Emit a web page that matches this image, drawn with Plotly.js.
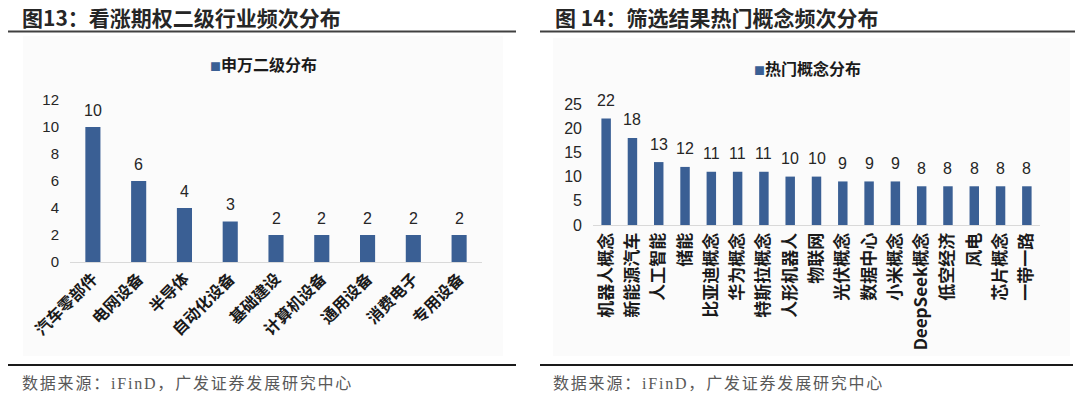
<!DOCTYPE html>
<html><head><meta charset="utf-8">
<script src="https://cdn.plot.ly/plotly-3.0.1.min.js"></script>
<style>html,body{margin:0;padding:0;background:#fff}#chart{width:1080px;height:397px}</style>
</head><body><div id="chart"></div>
<script>
// ---- data ----
const industryCategories = ["汽车零部件","电网设备","半导体","自动化设备","基础建设","计算机设备","通用设备","消费电子","专用设备"];
const industryCounts = [10,6,4,3,2,2,2,2,2];
const conceptCategories = ["机器人概念","新能源汽车","人工智能","储能","比亚迪概念","华为概念","特斯拉概念","人形机器人","物联网","光伏概念","数据中心","小米概念","DeepSeek概念","低空经济","风电","芯片概念","一带一路"];
const conceptCounts = [22,18,13,12,11,11,11,10,10,9,9,9,8,8,8,8,8];
const leftYTicks = [0,2,4,6,8,10,12];
const rightYTicks = [0,5,10,15,20,25];
const leftTitle = "图13：看涨期权二级行业频次分布";
const rightTitle = "图 14：筛选结果热门概念频次分布";
const leftLegend = "申万二级分布";
const rightLegend = "热门概念分布";
const sourceText = "数据来源：iFinD，广发证券发展研究中心";

// ---- layout helpers ----
const W = 1080, H = 397;
const px = x => x / W;
const py = y => 1 - y / H;
const BAR = "#3A5F94";
const CJK = "Noto Sans CJK SC, Liberation Sans, sans-serif";
const NUM = "Liberation Sans, Noto Sans CJK SC, sans-serif";
const LABEL_FONT = {family: NUM, size: 16, color: "#262626"};

const traces = [
  {
    type: "bar", x: industryCategories, y: industryCounts, xaxis: "x", yaxis: "y",
    marker: {color: BAR}, width: 0.33, hoverinfo: "x+y", showlegend: false
  },
  {
    type: "bar", x: conceptCategories, y: conceptCounts, xaxis: "x2", yaxis: "y2",
    marker: {color: BAR}, width: 0.36, hoverinfo: "x+y", showlegend: false
  }
];

// value labels above the bars, positioned through the axes' own scales
const valueLabels = [];
industryCategories.forEach((c, i) => valueLabels.push({
  xref: "x", yref: "y", x: c, y: industryCounts[i], yshift: 17, yanchor: "middle",
  text: String(industryCounts[i]), showarrow: false, font: LABEL_FONT
}));
conceptCategories.forEach((c, i) => valueLabels.push({
  xref: "x2", yref: "y2", x: c, y: conceptCounts[i], yshift: 18, yanchor: "middle",
  text: String(conceptCounts[i]), showarrow: false, font: LABEL_FONT
}));

const srcText = "<span style='letter-spacing:1.8px'>" + sourceText + "</span>";

const layout = {
  width: W, height: H,
  margin: {l: 0, r: 0, t: 0, b: 0},
  paper_bgcolor: "#ffffff", plot_bgcolor: "rgba(0,0,0,0)",
  showlegend: false,
  xaxis: {
    domain: [px(70), px(482)], anchor: "y", type: "category",
    showline: true, linecolor: "#d9d9d9", linewidth: 1, showgrid: false, zeroline: false,
    ticks: "", tickangle: -45, automargin: false,
    tickfont: {family: CJK, size: 16, color: "#1a1a1a", weight: "bold"}
  },
  yaxis: {
    domain: [py(262), py(100)], anchor: "x", range: [0, 12],
    tickvals: leftYTicks, showline: false, showgrid: false, zeroline: false,
    ticks: "", ticklabelstandoff: 10, automargin: false,
    tickfont: {family: NUM, size: 15, color: "#262626"}
  },
  xaxis2: {
    domain: [px(593), px(1040)], anchor: "y2", type: "category",
    showline: true, linecolor: "#d9d9d9", linewidth: 1, showgrid: false, zeroline: false,
    ticks: "", tickangle: -90, automargin: false,
    tickfont: {family: CJK, size: 17, color: "#1a1a1a", weight: "bold"}
  },
  yaxis2: {
    domain: [py(225), py(104)], anchor: "x2", range: [0, 25],
    tickvals: rightYTicks, showline: false, showgrid: false, zeroline: false,
    ticks: "", ticklabelstandoff: 10, automargin: false,
    tickfont: {family: NUM, size: 16, color: "#262626"}
  },
  shapes: [
    {type: "rect", xref: "paper", yref: "paper", x0: px(23), x1: px(503), y0: py(356), y1: py(36),
     fillcolor: "#fbfbfb", line: {width: 0}, layer: "below"},
    {type: "rect", xref: "paper", yref: "paper", x0: px(553), x1: px(1070), y0: py(356), y1: py(38),
     fillcolor: "#fbfbfb", line: {width: 0}, layer: "below"},
    {type: "line", xref: "paper", yref: "paper", x0: px(8), x1: px(516), y0: py(31.5), y1: py(31.5),
     line: {color: "#404040", width: 2}},
    {type: "line", xref: "paper", yref: "paper", x0: px(540), x1: px(1075), y0: py(31.5), y1: py(31.5),
     line: {color: "#404040", width: 2}},
    {type: "line", xref: "paper", yref: "paper", x0: px(8), x1: px(516), y0: py(365), y1: py(365),
     line: {color: "#1a1a1a", width: 2}},
    {type: "line", xref: "paper", yref: "paper", x0: px(540), x1: px(1073), y0: py(365), y1: py(365),
     line: {color: "#1a1a1a", width: 2}}
  ],
  annotations: valueLabels.concat([
    {xref: "paper", yref: "paper", x: px(20), y: py(17), xanchor: "left", yanchor: "middle", showarrow: false,
     text: "<b>" + leftTitle + "</b>", font: {family: CJK, size: 21, color: "#262626"}},
    {xref: "paper", yref: "paper", x: px(553), y: py(17), xanchor: "left", yanchor: "middle", showarrow: false,
     text: "<b>" + rightTitle + "</b>", font: {family: CJK, size: 21, color: "#262626"}},
    {xref: "paper", yref: "paper", x: px(263), y: py(64), xanchor: "center", yanchor: "middle", showarrow: false,
     text: "<span style='color:" + BAR + ";font-size:11px'>■</span><b>" + leftLegend + "</b>",
     font: {family: CJK, size: 16, color: "#1a1a1a"}},
    {xref: "paper", yref: "paper", x: px(807), y: py(68), xanchor: "center", yanchor: "middle", showarrow: false,
     text: "<span style='color:" + BAR + ";font-size:11px'>■</span><b>" + rightLegend + "</b>",
     font: {family: CJK, size: 16, color: "#1a1a1a"}},
    {xref: "paper", yref: "paper", x: px(20), y: py(383), xanchor: "left", yanchor: "middle", showarrow: false,
     text: srcText, font: {family: "Liberation Serif, Noto Sans CJK SC, serif", size: 16, color: "#595959"}},
    {xref: "paper", yref: "paper", x: px(551), y: py(383), xanchor: "left", yanchor: "middle", showarrow: false,
     text: srcText, font: {family: "Liberation Serif, Noto Sans CJK SC, serif", size: 16, color: "#595959"}}
  ])
};

Plotly.newPlot("chart", traces, layout, {staticPlot: true, displayModeBar: false});
</script></body></html>
